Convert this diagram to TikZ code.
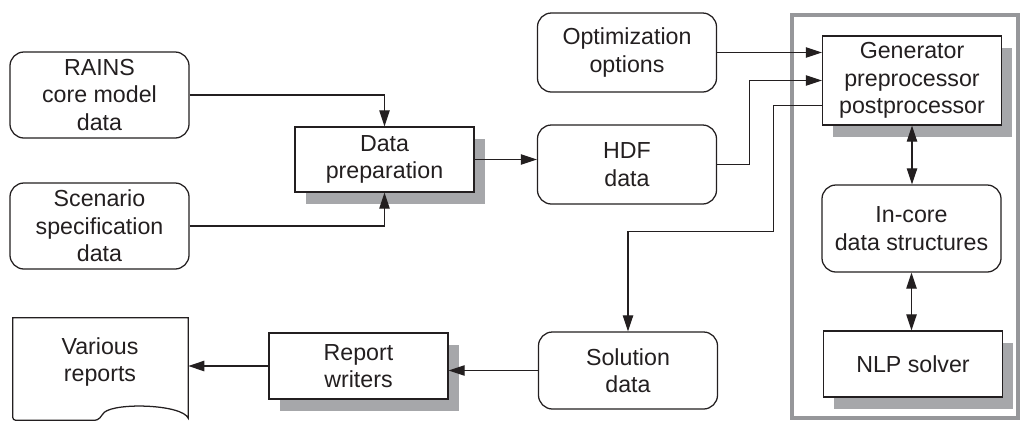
\documentclass[tikz,border=0pt]{standalone}
\usepackage{fontspec}
\setmainfont{Liberation Sans}
\usetikzlibrary{arrows.meta,positioning,calc,shadows}
\definecolor{shadegray}{RGB}{166,167,170}
\definecolor{framegray}{RGB}{150,151,154}
\definecolor{inkblack}{RGB}{35,31,32}

\begin{document}
\begin{tikzpicture}[
    x=0.025cm, y=-0.025cm,
    font=\fontsize{16.5}{19.5}\selectfont,
    >={Triangle[length=4mm, width=2.6mm]},
    every node/.style={inner sep=0pt, align=center, text=inkblack},
    roundbox/.style={rectangle, draw=inkblack, fill=white, rounded corners=0.35cm, minimum width=4.475cm, line width=0.9pt},
    procbox/.style={rectangle, draw=inkblack, fill=white, minimum width=4.475cm, line width=0.9pt, drop shadow={fill=shadegray, opacity=1, shadow xshift=0.27cm, shadow yshift=-0.29cm}},
    solverframe/.style={rectangle, draw=framegray, line width=0.1cm, minimum width=5.65cm, minimum height=10.075cm},
    link/.style={draw=inkblack, line width=0.9pt}
]
\useasboundingbox (0,0) rectangle (1024,422);

% Solver block frame
\node[solverframe] (solver) at (905,216.5) {};

% Input data and preparation
\node[roundbox, minimum height=2.15cm] (rains) at (99.5,95) {RAINS\\core model\\data};
\node[roundbox, minimum height=2.15cm] (scen) at (99.5,226) {Scenario\\specification\\data};
\node[procbox, minimum height=1.625cm] (prep) at (384.5,159.5) {Data\\preparation};
\node[roundbox, minimum height=1.975cm] (opt) at (627,52.5) {Optimization\\options};
\node[roundbox, minimum height=1.975cm] (hdf) at (627,164.5) {HDF\\data};

% Solver internals
\node[procbox, minimum height=2.225cm] (gen) at (912,80.5) {Generator\\preprocessor\\postprocessor};
\node[roundbox, minimum height=2.175cm] (incore) at (911.5,228.5) {In-core\\data structures};
\node[procbox, minimum height=1.65cm] (nlp) at (913,364) {NLP solver};

% Output side
\node[roundbox, minimum height=1.925cm] (sol) at (628,370.5) {Solution\\data};
\node[procbox, minimum height=1.65cm] (writers) at (358.5,366) {Report\\writers};
\node[rectangle, minimum width=4.375cm, minimum height=2.55cm] (reports) at (100.5,369) {};
\node (reportstext) at (100,362) {Various\\reports};

% Document outline with wavy bottom
\draw[link] (reports.north west) -- (reports.north east) -- ($(reports.south east)+(0,-2)$)
    .. controls ($(reports.south east)+(-6,-16)$) and ($(reports.south east)+(-72,-18)$) .. ($(reports.south east)+(-84,-8)$)
    .. controls ($(reports.south east)+(-88,-4)$) and ($(reports.south east)+(-88,0)$) .. ($(reports.south east)+(-95,0)$)
    -- ($(reports.south west)+(3,0)$) arc[start angle=270, end angle=180, radius=0.075cm] -- cycle;

% Connections
\draw[link, ->] (rains.east) -| (prep.north);
\draw[link, ->] (scen.east) -| (prep.south);
\draw[link, ->] (prep.east) -- (prep.east -| hdf.west);
\draw[link, ->] (opt.east) -- (opt.east -| gen.west);
\draw[link, ->] (hdf.east) -- ++(32,0) |- (gen.west);
\draw[link, ->] ($(gen.west)+(0,25)$) -| ++(-48,126) -| (sol.north);
\draw[link, <->] (gen.south) -- (gen.south |- incore.north);
\draw[link, <->] (incore.south) -- (incore.south |- nlp.north);
\draw[link, ->] (sol.west) -- (sol.west -| writers.east);
\draw[link, ->] (writers.west) -- (writers.west -| reports.east);

\end{tikzpicture}
\end{document}
